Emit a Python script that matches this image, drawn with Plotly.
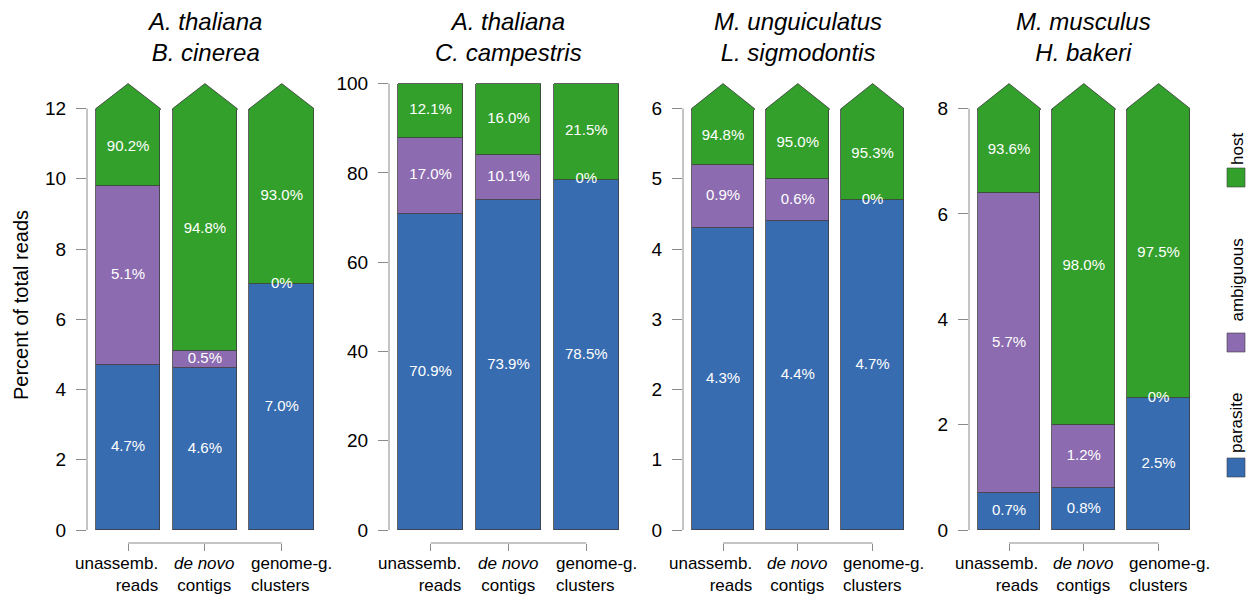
import plotly.graph_objects as go

# ---------------- data ----------------
panel_titles = [
    ["A. thaliana", "B. cinerea"],
    ["A. thaliana", "C. campestris"],
    ["M. unguiculatus", "L. sigmodontis"],
    ["M. musculus", "H. bakeri"],
]
categories = ["unassemb.<br>reads", "<i>de novo</i><br>contigs", "genome-g.<br>clusters"]
series_names = ["parasite", "ambiguous", "host"]

parasite = [[4.7, 4.6, 7.0], [70.9, 73.9, 78.5], [4.3, 4.4, 4.7], [0.7, 0.8, 2.5]]
ambiguous = [[5.1, 0.5, 0.0], [17.0, 10.1, 0.0], [0.9, 0.6, 0.0], [5.7, 1.2, 0.0]]
host = [[90.2, 94.8, 93.0], [12.1, 16.0, 21.5], [94.8, 95.0, 95.3], [93.6, 98.0, 97.5]]

y_max = [12, 100, 6, 8]
y_step = [2, 20, 1, 2]

# ---------------- style / layout ----------------
W, H = 1248, 595
FONT = "Liberation Sans, Arial, Helvetica, sans-serif"
COLORS = {"parasite": "#386CB0", "ambiguous": "#8C6BB0", "host": "#33A02C"}
EDGE = "#3c3c3c"
AXC = "#8a8a8a"
BAR_W = 0.84
X_RANGE = [-0.535, 2.42]
PANEL_PX = [(87, 314), (389, 619), (683, 904), (969, 1190)]
BOTTOM_PX, ZERO_PX, TOP_CLIP_PX, TIP_PX = 543, 530, 108, 83


def px_x(p):
    return p / W


def px_y(p):
    return 1 - p / H


fig = go.Figure()
layout = dict(
    width=W, height=H, margin=dict(l=0, r=0, t=0, b=0, pad=0, autoexpand=False),
    paper_bgcolor="white", plot_bgcolor="white",
    showlegend=False, barmode="stack", bargap=0,
    font=dict(family=FONT, color="black"),
)
shapes, annotations = [], []

for i in range(4):
    sfx = "" if i == 0 else str(i + 1)
    xa, ya = f"x{sfx}", f"y{sfx}"
    xk, yk = f"xaxis{sfx}", f"yaxis{sfx}"
    ymx = y_max[i]
    totals = [parasite[i][k] + ambiguous[i][k] + host[i][k] for k in range(3)]
    clipped = any(t > ymx + 0.5 for t in totals)
    top_px = TOP_CLIP_PX if clipped else TIP_PX
    upp = ymx / (ZERO_PX - top_px)
    yr = [-(BOTTOM_PX - ZERO_PX) * upp, (ZERO_PX - TIP_PX) * upp + 0.6 * upp]
    arrow_h = (top_px - TIP_PX) * upp

    xs = list(range(3))
    cum1 = parasite[i]
    cum2 = [parasite[i][k] + ambiguous[i][k] for k in range(3)]
    host_vis = [min(host[i][k], ymx - cum2[k]) for k in range(3)]

    for name, vals in (("parasite", parasite[i]), ("ambiguous", ambiguous[i]), ("host", host_vis)):
        fig.add_trace(go.Bar(
            x=xs, y=vals, width=BAR_W, xaxis=xa, yaxis=ya,
            marker=dict(color=COLORS[name], line=dict(color=EDGE, width=0.8)),
            hoverinfo="skip", name=name,
        ))

    # arrow heads for host segments that run beyond the axis
    d = 1.5 * upp
    for k in range(3):
        if cum2[k] + host[i][k] > ymx + 0.5:
            xl, xr = k - BAR_W / 2, k + BAR_W / 2
            fig.add_trace(go.Scatter(
                x=[xl, xl, k, xr, xr], y=[ymx - d, ymx, ymx + arrow_h, ymx, ymx - d],
                xaxis=xa, yaxis=ya, mode="lines", fill="toself",
                fillcolor=COLORS["host"], line=dict(color=EDGE, width=0.8),
                hoverinfo="skip",
            ))

    # value labels
    lx, ly, lt = [], [], []
    for k in range(3):
        lx += [k, k, k]
        ly += [cum1[k] / 2, (cum1[k] + cum2[k]) / 2, cum2[k] + host_vis[k] / 2]
        for v in (parasite[i][k], ambiguous[i][k], host[i][k]):
            lt.append("0%" if v == 0 else f"{v:.1f}%")
    fig.add_trace(go.Scatter(
        x=lx, y=ly, text=lt, mode="text", xaxis=xa, yaxis=ya,
        textfont=dict(color="white", size=15, family=FONT),
        textposition="middle center", cliponaxis=False, hoverinfo="skip",
    ))

    l, r = PANEL_PX[i]
    layout[xk] = dict(
        domain=[px_x(l), px_x(r)], range=X_RANGE, anchor=ya, automargin=False,
        showgrid=False, zeroline=False, showline=False,
        tickvals=xs, ticks="outside", ticklen=7, tickcolor=AXC, tickwidth=1,
        showticklabels=False, fixedrange=True,
    )
    tv = list(range(0, ymx + 1, y_step[i]))
    layout[yk] = dict(
        domain=[px_y(BOTTOM_PX), px_y(TIP_PX)], range=yr, anchor=xa, automargin=False,
        showgrid=False, zeroline=False, showline=False,
        tickvals=tv, ticktext=[str(v) for v in tv],
        ticks="outside", ticklen=10, tickcolor=AXC, tickwidth=1,
        tickfont=dict(size=19, color="black", family=FONT),
        ticklabelstandoff=6, fixedrange=True,
    )
    # y axis line from 0 to max
    shapes.append(dict(type="line", xref=f"{xa} domain", yref=ya, x0=0, x1=0, y0=0, y1=ymx,
                       line=dict(color=AXC, width=1)))
    # x bracket between first and last category
    shapes.append(dict(type="line", xref=xa, yref=f"{ya} domain", x0=0, x1=2, y0=0, y1=0,
                       line=dict(color=AXC, width=1)))

    # category labels
    anchors = [("right", 0 + BAR_W / 2), ("center", 1), ("left", 2 - BAR_W / 2)]
    for k, (anc, xpos) in enumerate(anchors):
        annotations.append(dict(
            text=categories[k], xref=xa, yref="paper", x=xpos, y=px_y(552),
            xanchor=anc, yanchor="top", align=anc, showarrow=False,
            font=dict(size=17, color="black", family=FONT),
        ))
    # panel title
    annotations.append(dict(
        text=f"<i>{panel_titles[i][0]}</i><br><i>{panel_titles[i][1]}</i>",
        xref=xa, yref="paper", x=1, y=px_y(37), xanchor="center", yanchor="middle",
        showarrow=False, font=dict(size=24, color="black", family=FONT),
    ))

# y axis title
annotations.append(dict(
    text="Percent of total reads", xref="paper", yref="paper",
    x=px_x(21), y=px_y(305), xanchor="center", yanchor="middle",
    textangle=-90, showarrow=False, font=dict(size=20, color="black", family=FONT),
))

# legend (rotated)
legend_sq_top = {"parasite": 458, "ambiguous": 333, "host": 168}
legend_txt_bottom = {"parasite": 455, "ambiguous": 324, "host": 167}
for name in series_names:
    t = legend_sq_top[name]
    shapes.append(dict(type="rect", xref="paper", yref="paper",
                       x0=px_x(1227), x1=px_x(1245), y0=px_y(t + 19), y1=px_y(t),
                       fillcolor=COLORS[name], line=dict(color=EDGE, width=0.6)))
    annotations.append(dict(
        text=name, xref="paper", yref="paper", x=px_x(1237), y=px_y(legend_txt_bottom[name]),
        xanchor="center", yanchor="bottom", textangle=-90, showarrow=False,
        font=dict(size=17, color="black", family=FONT),
    ))

layout["shapes"] = shapes
layout["annotations"] = annotations
fig.update_layout(**layout)
fig.write_html("out.html")
